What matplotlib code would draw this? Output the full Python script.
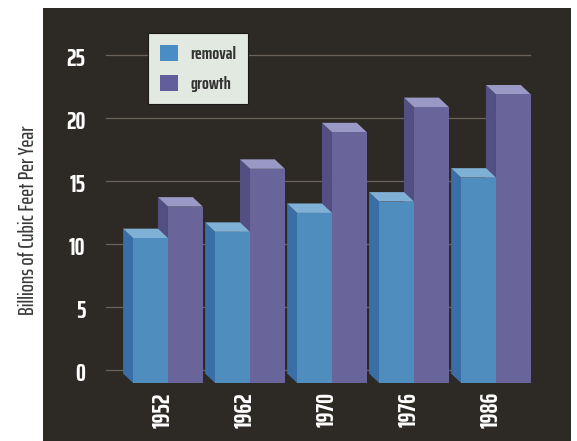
import matplotlib
matplotlib.use("Agg")
import matplotlib.pyplot as plt
from matplotlib.patches import Polygon, Patch

# Timber removal vs. net growth, billions of cubic feet per year
years = ["1952", "1962", "1970", "1976", "1986"]
removal = [11.5, 12.0, 13.5, 14.4, 16.3]
growth = [14.0, 17.0, 19.9, 21.9, 22.9]
y_ticks = [0, 5, 10, 15, 20, 25]
series_names = ["removal", "growth"]

FONT = ["Saira ExtraCondensed", "DejaVu Sans"]

BG = "#2d2925"
REM = {"front": "#4f8dbf", "side": "#3a6ea6", "top": "#7fb0d6"}
GRO = {"front": "#69659a", "side": "#534f82", "top": "#9a98c4"}
GRID = "#6b6358"

# pseudo-3D depth offset of each bar's back edge (data units)
DX, DY = -0.122, 0.75
# back wall offset used by grid lines and tick labels
WALL = 1.03
W = 0.425

fig = plt.figure(figsize=(5.77, 4.41), dpi=100, facecolor="white")
ax = fig.add_axes([43 / 577, 0, (571 - 43) / 577, (441 - 8) / 441])
ax.set_facecolor(BG)
ax.set_xlim(-1.524, 4.915)
ax.set_ylim(-4.60, 29.76)
ax.set_xticks([])
ax.set_yticks([])
for s in ax.spines.values():
    s.set_visible(False)

# grid lines on the back wall
for g in y_ticks:
    ax.plot([-0.756, 4.41], [g + WALL, g + WALL], color=GRID, lw=0.9, zorder=1)
    ax.text(-1.005, g + WALL - 0.35, str(g), color="white", fontsize=18,
            fontweight="bold", family=FONT, ha="right", va="center", zorder=2)


def bar3d(x0, v, col, z):
    x1 = x0 + W
    side = [(x0, 0), (x0 + DX, DY), (x0 + DX, v + DY), (x0, v)]
    top = [(x0, v), (x0 + DX, v + DY), (x1 + DX, v + DY), (x1, v)]
    front = [(x0, 0), (x1, 0), (x1, v), (x0, v)]
    ax.add_patch(Polygon(side, closed=True, fc=col["side"], ec="none", zorder=z))
    ax.add_patch(Polygon(top, closed=True, fc=col["top"], ec="none", zorder=z))
    ax.add_patch(Polygon(front, closed=True, fc=col["front"], ec="none", zorder=z + 0.1))


for i, (r, g) in enumerate(zip(removal, growth)):
    bar3d(i, g, GRO, 3)
    bar3d(i - W, r, REM, 4)
    ax.text(i - 0.06, -2.14, years[i], rotation=90, color="white", fontsize=18,
            fontweight="bold", family=FONT, ha="center", va="center", zorder=5)

handles = [Patch(facecolor="#4a8cc6", edgecolor="none"),
           Patch(facecolor="#625e9c", edgecolor="none")]
leg = fig.legend(handles, series_names, loc="upper left",
                 bbox_to_anchor=(148 / 577, 1 - 33 / 441), borderaxespad=0,
                 frameon=True, fancybox=False, handlelength=1.0, handleheight=1.0,
                 handletextpad=0.7, labelspacing=0.72, borderpad=0.65,
                 prop={"family": FONT, "weight": "bold", "size": 13})
leg.get_frame().set_facecolor("#e2e9e0")
leg.get_frame().set_edgecolor("#1a1a1a")
leg.get_frame().set_linewidth(0.8)
leg.get_frame().set_alpha(1)
for t in leg.get_texts():
    t.set_color("#333333")

fig.text(28 / 577, 1 - 220 / 441, "Billions of Cubic Feet Per Year", rotation=90,
         ha="center", va="center", fontsize=15.5, family=FONT, fontweight="medium",
         color="#3a3a3a")

fig.savefig("out.png", dpi=100, facecolor="white")
